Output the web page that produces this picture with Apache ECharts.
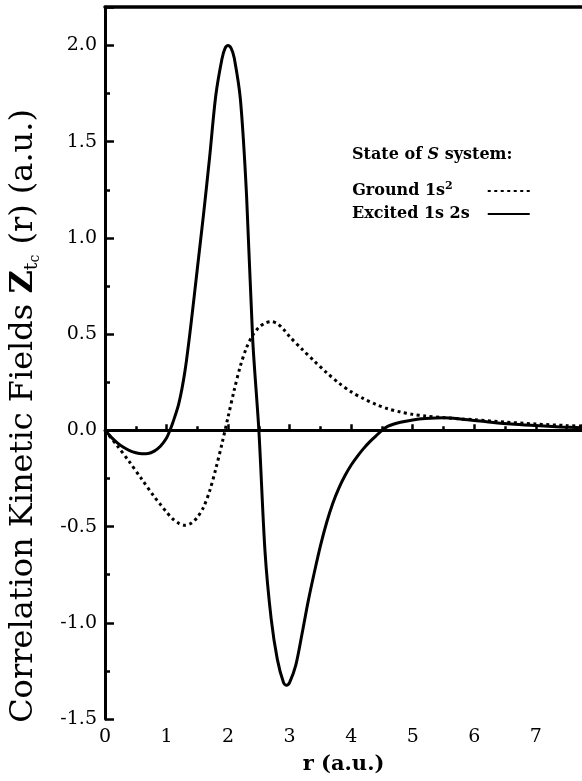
<!DOCTYPE html>
<html>
<head>
<meta charset="utf-8">
<script src="https://cdn.jsdelivr.net/npm/echarts@6/dist/echarts.min.js"></script>
<style>
  html, body { margin: 0; padding: 0; background: #fff; }
  #chart { width: 582px; height: 781px; }
</style>
</head>
<body>
<div id="chart"></div>
<script>
// Radial distance r (a.u.) and correlation kinetic field values for each state
const excitedR = [0, 0.1, 0.2, 0.3, 0.4, 0.5, 0.6, 0.7, 0.8, 0.9, 1.0, 1.05, 1.1, 1.2, 1.3, 1.4, 1.5, 1.6, 1.7, 1.8, 1.9, 1.95, 2.0, 2.05, 2.1, 2.2, 2.3, 2.4, 2.5, 2.6, 2.7, 2.8, 2.9, 2.95, 3.0, 3.1, 3.2, 3.3, 3.4, 3.5, 3.6, 3.7, 3.8, 3.9, 4.0, 4.1, 4.2, 4.3, 4.4, 4.5, 4.6, 4.8, 5.0, 5.2, 5.5, 5.8, 6.2, 6.6, 7.0, 7.4, 7.75];
const excitedZ = [0, -0.035, -0.065, -0.088, -0.105, -0.116, -0.121, -0.12, -0.108, -0.083, -0.04, -0.004, 0.038, 0.14, 0.31, 0.56, 0.84, 1.12, 1.42, 1.74, 1.93, 1.985, 2.0, 1.985, 1.935, 1.72, 1.22, 0.47, 0.0, -0.63, -0.98, -1.19, -1.31, -1.325, -1.31, -1.22, -1.06, -0.89, -0.74, -0.6, -0.48, -0.38, -0.3, -0.235, -0.18, -0.135, -0.095, -0.06, -0.03, 0.0, 0.022, 0.042, 0.054, 0.061, 0.065, 0.058, 0.045, 0.033, 0.025, 0.018, 0.014];

const groundR = [0, 0.2, 0.4, 0.6, 0.8, 0.9, 1.0, 1.1, 1.2, 1.3, 1.4, 1.5, 1.6, 1.7, 1.8, 1.9, 2.0, 2.1, 2.2, 2.3, 2.4, 2.5, 2.6, 2.7, 2.8, 2.9, 3.0, 3.2, 3.4, 3.6, 3.8, 4.0, 4.2, 4.4, 4.6, 4.8, 5.0, 5.2, 5.5, 6.0, 6.5, 7.0, 7.5, 7.75];
const groundZ = [0, -0.08, -0.165, -0.255, -0.345, -0.385, -0.425, -0.46, -0.483, -0.493, -0.483, -0.452, -0.4, -0.315, -0.2, -0.07, 0.07, 0.21, 0.335, 0.43, 0.495, 0.535, 0.557, 0.565, 0.555, 0.525, 0.487, 0.422, 0.36, 0.3, 0.246, 0.2, 0.165, 0.135, 0.112, 0.095, 0.083, 0.075, 0.066, 0.055, 0.043, 0.033, 0.025, 0.022];

// Axis ranges and tick steps
const xRange = [0, 7.75];
const xStep = 1;
const yRange = [-1.5, 2.2];
const yStep = 0.5;

// Legend entries
const legendNames = ['Ground', 'Excited'];
const legendLabels = ['Ground 1s{sup|2}', 'Excited 1s 2s'];

const FONT = 'DejaVu Serif';
const INK = '#000';

const chart = echarts.init(document.getElementById('chart'), null, { renderer: 'canvas' });

const pairs = (xs, ys) => xs.map((x, i) => [x, ys[i]]);

chart.setOption({
  animation: false,
  backgroundColor: '#fff',
  grid: { left: 105, right: 0, top: 7, bottom: 62, containLabel: false },
  xAxis: [
    {
      type: 'value',
      min: xRange[0],
      max: xRange[1],
      interval: xStep,
      position: 'bottom',
      name: 'r (a.u.)',
      nameLocation: 'middle',
      nameGap: 35,
      nameTextStyle: { fontFamily: FONT, fontSize: 21, fontWeight: 'bold', color: INK },
      axisLine: { show: true, lineStyle: { color: INK, width: 3 } },
      axisTick: { show: true, inside: true, length: 6, lineStyle: { color: INK, width: 2.5 } },
      minorTick: { show: true, splitNumber: 2, length: 4, lineStyle: { color: INK, width: 2.5 } },
      axisLabel: { show: true, margin: 9, fontFamily: FONT, fontSize: 19, color: INK, showMaxLabel: false },
      splitLine: { show: false }
    },
    {
      type: 'value',
      min: xRange[0],
      max: xRange[1],
      position: 'top',
      axisLine: { show: true, lineStyle: { color: INK, width: 3.5 } },
      axisTick: { show: false },
      axisLabel: { show: false },
      splitLine: { show: false }
    }
  ],
  yAxis: {
    type: 'value',
    min: yRange[0],
    max: yRange[1],
    interval: yStep,
    axisLine: { show: true, onZero: false, lineStyle: { color: INK, width: 3 } },
    axisTick: { show: true, inside: true, length: 9, lineStyle: { color: INK, width: 2.5 } },
    minorTick: { show: true, splitNumber: 2, length: 5, lineStyle: { color: INK, width: 2.5 } },
    axisLabel: {
      show: true, margin: 8, fontFamily: FONT, fontSize: 19, color: INK, showMaxLabel: false,
      formatter: v => v.toFixed(1)
    },
    splitLine: { show: false }
  },
  legend: {
    orient: 'vertical',
    left: 352,
    top: 181,
    padding: 0,
    itemGap: 3,
    itemWidth: 42,
    itemHeight: 14,
    align: 'right',
    selectedMode: false,
    itemStyle: { color: 'rgba(0,0,0,0)', borderWidth: 0, opacity: 0 },
    data: [
      { name: legendNames[0], textStyle: { padding: [0, 30, 0, 0] } },
      { name: legendNames[1], textStyle: { padding: [0, 13, 0, 0] } }
    ],
    formatter: name => legendLabels[legendNames.indexOf(name)],
    textStyle: {
      fontFamily: FONT, fontSize: 16, fontWeight: 'bold', color: INK, lineHeight: 20,
      rich: { sup: { fontFamily: FONT, fontSize: 11, fontWeight: 'bold', color: INK, verticalAlign: 'top', lineHeight: 11 } }
    }
  },
  graphic: [
    {
      type: 'text',
      left: 352,
      top: 147,
      style: {
        text: 'State of {it|S} system:',
        fontFamily: FONT, fontSize: 16, fontWeight: 'bold', fill: INK,
        rich: { it: { fontFamily: FONT, fontSize: 16, fontWeight: 'bold', fontStyle: 'italic', fill: INK } }
      }
    },
    {
      type: 'text',
      x: 24,
      y: 416,
      rotation: Math.PI / 2,
      style: {
        text: 'Correlation Kinetic Fields {z|Z}{t|t}{c|c}{m| (r) (a.u.)}',
        fontFamily: FONT, fontSize: 32, fill: INK, lineHeight: 36,
        align: 'center', verticalAlign: 'middle',
        rich: {
          m: { fontFamily: FONT, fontSize: 32, fill: INK, lineHeight: 36 },
          z: { fontFamily: FONT, fontSize: 32, fontWeight: 'bold', fill: INK, lineHeight: 36 },
          t: { fontFamily: FONT, fontSize: 19, fill: INK, lineHeight: 22, verticalAlign: 'bottom' },
          c: { fontFamily: FONT, fontSize: 14, fill: INK, lineHeight: 12, verticalAlign: 'bottom' }
        }
      }
    }
  ],
  series: [
    {
      name: 'Ground',
      type: 'line',
      data: pairs(groundR, groundZ),
      symbol: 'none',
      showSymbol: false,
      smooth: 0.3,
      lineStyle: { color: INK, width: 3, type: [3, 3.5] },
      itemStyle: { color: INK },
      z: 3
    },
    {
      name: 'Excited',
      type: 'line',
      data: pairs(excitedR, excitedZ),
      symbol: 'none',
      showSymbol: false,
      smooth: 0.3,
      lineStyle: { color: INK, width: 3, type: 'solid' },
      itemStyle: { color: INK },
      z: 4,
      markLine: {
        silent: true,
        symbol: ['none', 'none'],
        label: { show: false },
        lineStyle: { color: INK, width: 2.5, type: 'solid' },
        data: [{ yAxis: 0 }]
      }
    }
  ]
});
</script>
</body>
</html>
